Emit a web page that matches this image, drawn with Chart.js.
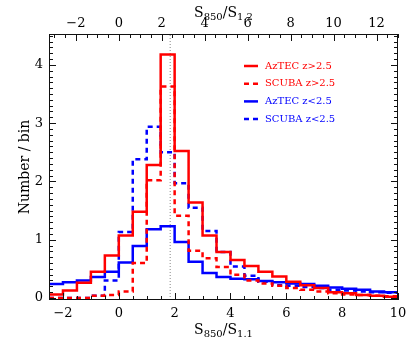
<!DOCTYPE html>
<html>
<head>
<meta charset="utf-8">
<script src="https://cdn.jsdelivr.net/npm/chart.js@4.4.1/dist/chart.umd.min.js"></script>
<style>
html,body{margin:0;padding:0;background:#fff}
#wrap{width:407px;height:349px;position:relative}
</style>
</head>
<body>
<div id="wrap"><canvas id="c"></canvas></div>
<script>
// bin left edges (S850/S1.1), last entry closes the final bin
const binEdges=[-2.5,-2,-1.5,-1,-0.5,0,0.5,1,1.5,2,2.5,3,3.5,4,4.5,5,5.5,6,6.5,7,7.5,8,8.5,9,9.5,10];
// number / bin for each bin
const aztecHigh=[0.06,0.13,0.26,0.45,0.73,1.07,1.48,2.28,4.18,2.52,1.64,1.07,0.79,0.65,0.55,0.45,0.37,0.28,0.22,0.17,0.10,0.08,0.05,0.04,0.02];
const scubaHigh=[0,0,0,0.04,0.05,0.11,0.60,2.02,3.63,1.41,0.81,0.68,0.53,0.40,0.30,0.25,0.21,0.17,0.14,0.11,0.08,0.06,0.05,0.04,0.03];
const aztecLow=[0.24,0.27,0.30,0.36,0.45,0.61,0.89,1.18,1.23,0.96,0.62,0.43,0.36,0.33,0.32,0.29,0.27,0.25,0.24,0.21,0.18,0.16,0.14,0.11,0.10];
const scubaLow=[0,0,0,0.04,0.30,1.13,2.38,2.94,2.50,1.97,1.55,1.15,0.79,0.54,0.38,0.28,0.22,0.21,0.19,0.17,0.14,0.13,0.11,0.10,0.09];
const seriesLabels=['AzTEC z>2.5','SCUBA z>2.5','AzTEC z<2.5','SCUBA z<2.5'];
const markerX=1.84; // dotted reference line
// axes
const xRange=[-2.5,10],yRange=[-0.035,4.53];
const topScale=1.3; // S850/S1.2 = 1.3 * S850/S1.1
const bottomTicks=[-2,0,2,4,6,8,10];
const topTicks=[-2,0,2,4,6,8,10,12];
const yTicks=[0,1,2,3,4];

const FONT='DejaVu Serif';
const RED='#ff0000',BLUE='#0000ff';

function histPoints(vals){return binEdges.map((e,i)=>({x:e,y:vals[Math.min(i,vals.length-1)]}));}
function fmt(v){return String(v).replace('-','\u2212');}
function setTicks(list){return s=>{s.ticks=list.map(v=>({value:v}));};}
function fixW(w){return s=>{s.width=w;s.paddingTop=0;s.paddingBottom=0;};}
function fixH(h){return s=>{s.height=h;s.paddingLeft=0;s.paddingRight=0;};}

// inward tick marks + frame
const frameTicks={id:'frameTicks',afterDraw(chart){
  const {ctx,chartArea:a,scales}=chart;
  ctx.save();ctx.strokeStyle='#111';ctx.lineWidth=1;
  ctx.strokeRect(a.left+.5,a.top+.5,a.width-1,a.height-1);
  function run(scale,step,major,fn){
    const lo=Math.ceil(scale.min/step-1e-9),hi=Math.floor(scale.max/step+1e-9);
    for(let i=lo;i<=hi;i++){const v=i*step,isMaj=Math.abs(v/major-Math.round(v/major))<1e-6;fn(Math.round(scale.getPixelForValue(v))+.5,isMaj?7:4);}
  }
  ctx.beginPath();
  run(scales.x,0.5,2,(p,l)=>{ctx.moveTo(p,a.bottom);ctx.lineTo(p,a.bottom-l);});
  run(scales.x2,0.5,2,(p,l)=>{ctx.moveTo(p,a.top);ctx.lineTo(p,a.top+l);});
  run(scales.y,0.1,1,(p,l)=>{ctx.moveTo(a.left,p);ctx.lineTo(a.left+l,p);ctx.moveTo(a.right,p);ctx.lineTo(a.right-l,p);});
  ctx.stroke();ctx.restore();
}};

// axis titles with subscripts
function subText(ctx,parts,cx,cy){
  const big='14px "'+FONT+'"',small='10px "'+FONT+'"';
  let w=0;parts.forEach(p=>{ctx.font=p[1]?small:big;w+=ctx.measureText(p[0]).width;});
  let x=cx-w/2;ctx.textBaseline='middle';ctx.textAlign='left';
  parts.forEach(p=>{ctx.font=p[1]?small:big;ctx.fillText(p[0],x,cy+(p[1]?4:0));x+=ctx.measureText(p[0]).width;});
}
const titles={id:'titles',afterDraw(chart){
  const {ctx,chartArea:a}=chart;
  ctx.save();ctx.fillStyle='#000';
  const cx=(a.left+a.right)/2;
  subText(ctx,[['S',0],['850',1],['/S',0],['1.1',1]],cx,a.bottom+30);
  subText(ctx,[['S',0],['850',1],['/S',0],['1.2',1]],cx,a.top-21);
  ctx.translate(25,(a.top+a.bottom)/2);ctx.rotate(-Math.PI/2);
  ctx.font='14px "'+FONT+'"';ctx.textAlign='center';ctx.textBaseline='middle';
  ctx.fillText('Number / bin',0,0);
  ctx.restore();
}};

// legend inside plot
const innerLegend={id:'innerLegend',afterDraw(chart){
  const {ctx,chartArea:a}=chart;
  ctx.save();ctx.font='10px "'+FONT+'"';ctx.textBaseline='middle';ctx.textAlign='left';
  let y=a.top+32;const x0=a.left+195;
  chart.data.datasets.forEach(ds=>{
    if(!ds.label)return;
    ctx.strokeStyle=ds.borderColor;ctx.lineWidth=2.5;ctx.setLineDash(ds.borderDash||[]);
    ctx.beginPath();ctx.moveTo(x0,y);ctx.lineTo(x0+14,y);ctx.stroke();
    ctx.setLineDash([]);ctx.fillStyle=ds.borderColor;ctx.fillText(ds.label,x0+21,y);
    y+=17.7;
  });
  ctx.restore();
}};

function histSet(label,vals,color,dashed){
  return {label,data:histPoints(vals),borderColor:color,borderWidth:2.5,borderDash:dashed?[5,4]:[],stepped:'before',pointRadius:0,fill:false};
}

const tickFont={family:FONT,size:13};
new Chart(document.getElementById('c'),{
  type:'line',
  data:{datasets:[
    histSet(seriesLabels[0],aztecHigh,RED,false),
    histSet(seriesLabels[1],scubaHigh,RED,true),
    histSet(seriesLabels[2],aztecLow,BLUE,false),
    histSet(seriesLabels[3],scubaLow,BLUE,true),
    {label:'',data:[{x:markerX,y:yRange[0]},{x:markerX,y:yRange[1]}],borderColor:'#888',borderWidth:1,borderDash:[1,2],pointRadius:0,fill:false}
  ]},
  options:{
    responsive:true,maintainAspectRatio:false,devicePixelRatio:1,animation:false,
    layout:{padding:0},
    plugins:{legend:{display:false},tooltip:{enabled:false}},
    scales:{
      x:{type:'linear',position:'bottom',min:xRange[0],max:xRange[1],afterBuildTicks:setTicks(bottomTicks),
         afterFit:fixH(49),grid:{display:false,drawTicks:false},border:{display:false},
         ticks:{autoSkip:false,maxRotation:0,padding:6,color:'#000',font:tickFont,callback:fmt}},
      x2:{type:'linear',position:'top',min:xRange[0]*topScale,max:xRange[1]*topScale,afterBuildTicks:setTicks(topTicks),
         afterFit:fixH(34),grid:{display:false,drawTicks:false},border:{display:false},
         ticks:{autoSkip:false,maxRotation:0,padding:3,color:'#000',font:tickFont,callback:fmt}},
      y:{type:'linear',position:'left',min:yRange[0],max:yRange[1],afterBuildTicks:setTicks(yTicks),
         afterFit:fixW(49),grid:{display:false,drawTicks:false},border:{display:false},
         ticks:{autoSkip:false,padding:6,color:'#000',font:tickFont,callback:fmt}},
      y2:{type:'linear',position:'right',min:yRange[0],max:yRange[1],
         afterFit:fixW(9),grid:{display:false,drawTicks:false},border:{display:false},ticks:{display:false}}
    }
  },
  plugins:[frameTicks,titles,innerLegend]
});
</script>
</body>
</html>
